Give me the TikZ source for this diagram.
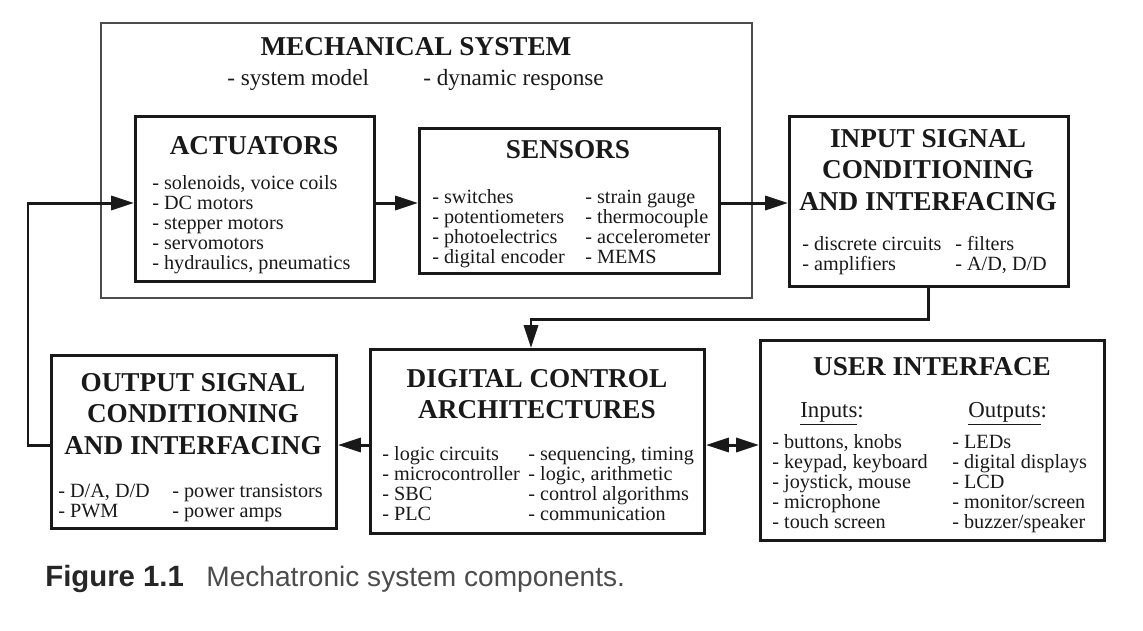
\documentclass[tikz,border=0pt]{standalone}
\usepackage{fontspec}
\setmainfont{Liberation Serif}
\newfontfamily\capfont{Liberation Sans}
\usetikzlibrary{arrows.meta}

\tikzstyle{box} = [draw=black!90, line width=1.7pt, inner sep=0pt, anchor=north west]
\tikzstyle{outer} = [draw=black!70, line width=1.1pt, inner sep=0pt, anchor=north west]
\tikzstyle{head} = [font=\fontsize{15.5}{18}\selectfont\bfseries, align=center, inner sep=0pt, text=black!90]
\tikzstyle{sub} = [font=\fontsize{13.2}{14}\selectfont, anchor=base west, inner sep=0pt, text=black!90]
\tikzstyle{lst} = [font=\fontsize{11.5}{11.5}\selectfont, anchor=base west, inner sep=0pt, text=black!90]
\tikzstyle{arr} = [draw=black!90, line width=1.7pt, -{Triangle[length=13pt,width=8pt]}]

\newcommand{\itemcol}[1]{\begin{tabular}[t]{@{}l@{}}#1\end{tabular}}

\begin{document}
\begin{tikzpicture}[x=0.02cm, y=-0.02cm]
\useasboundingbox (0,0) rectangle (1143,630);
%helper rows
\coordinate (sig) at (0,203);
\coordinate (ctl) at (0,445);
\coordinate (fbx) at (28,0);
\coordinate (drop) at (531,319);
%mechanical system
\node[outer, minimum width=13.02cm, minimum height=5.50cm] (mech) at (100,22) {};
\node[head] (mecht) at (416,47) {MECHANICAL SYSTEM};
\node[sub] (mechs1) at (227,85) {- system model};
\node[sub] (mechs2) at (423,85) {- dynamic response};
%actuators
\node[box, minimum width=4.78cm, minimum height=3.30cm] (act) at (134,115) {};
\node[head] (actt) at (254,146) {ACTUATORS};
\node[lst] (actl) at (152,189) {\itemcol{- solenoids, voice coils\\ - DC motors\\ - stepper motors\\ - servomotors\\ - hydraulics, pneumatics}};
%sensors
\node[box, minimum width=6.00cm, minimum height=2.90cm] (sens) at (418,127) {};
\node[head] (senst) at (568,150) {SENSORS};
\node[lst] (sensa) at (432,203) {\itemcol{- switches\\ - potentiometers\\ - photoelectrics\\ - digital encoder}};
\node[lst] (sensb) at (585,203) {\itemcol{- strain gauge\\ - thermocouple\\ - accelerometer\\ - MEMS}};
%input signal conditioning
\node[box, minimum width=5.58cm, minimum height=3.40cm] (inp) at (788,115) {};
\node[head] (inpt) at (928,170) {INPUT SIGNAL\\CONDITIONING\\AND INTERFACING};
\node[lst] (inpa) at (802,250) {\itemcol{- discrete circuits\\ - amplifiers}};
\node[lst] (inpb) at (955,250) {\itemcol{- filters\\ - A/D, D/D}};
%digital control
\node[box, minimum width=6.68cm, minimum height=3.68cm] (dig) at (369,348) {};
\node[head] (digt) at (537,394) {DIGITAL CONTROL\\ARCHITECTURES};
\node[lst] (diga) at (382,460) {\itemcol{- logic circuits\\ - microcontroller\\ - SBC\\ - PLC}};
\node[lst] (digb) at (528,460) {\itemcol{- sequencing, timing\\ - logic, arithmetic\\ - control algorithms\\ - communication}};
%user interface
\node[box, minimum width=6.88cm, minimum height=4.00cm] (usr) at (759,339) {};
\node[head] (usrt) at (932,367) {USER INTERFACE};
\node[sub, font=\fontsize{13}{14}\selectfont] (usri) at (800,417) {\underline{Inputs}:};
\node[sub, font=\fontsize{13}{14}\selectfont] (usro) at (968,417) {\underline{Outputs}:};
\node[lst] (usra) at (772,448) {\itemcol{- buttons, knobs\\ - keypad, keyboard\\ - joystick, mouse\\ - microphone\\ - touch screen}};
\node[lst] (usrb) at (952,448) {\itemcol{- LEDs\\ - digital displays\\ - LCD\\ - monitor/screen\\ - buzzer/speaker}};
%output signal conditioning
\node[box, minimum width=5.70cm, minimum height=3.46cm] (out) at (50,354) {};
\node[head] (outt) at (193,414) {OUTPUT SIGNAL\\CONDITIONING\\AND INTERFACING};
\node[lst] (outa) at (58,497) {\itemcol{- D/A, D/D\\ - PWM}};
\node[lst] (outb) at (172,497) {\itemcol{- power transistors\\ - power amps}};
%connectors
\draw[arr] (act.east |- sig) -- (sens.west |- sig);
\draw[arr] (sens.east |- sig) -- (inp.west |- sig);
\draw[arr] (inp.south) |- (drop) -- (drop |- dig.north);
\draw[arr] (dig.west |- ctl) -- (out.east |- ctl);
\draw[arr, {Triangle[length=13pt,width=8pt]}-{Triangle[length=13pt,width=8pt]}] (dig.east |- ctl) -- (usr.west |- ctl);
\draw[arr] (out.west |- ctl) -- (fbx |- ctl) -- (fbx |- sig) -- (act.west |- sig);
%caption
\node[anchor=base west, inner sep=0pt, font=\capfont\fontsize{16.7}{18}\selectfont\bfseries, text=black!85] (capn) at (45,586) {Figure 1.1};
\node[anchor=base west, inner sep=0pt, font=\capfont\fontsize{16}{18}\selectfont, text=black!70] (capt) at (206,586) {Mechatronic system components.};
\end{tikzpicture}
\end{document}
